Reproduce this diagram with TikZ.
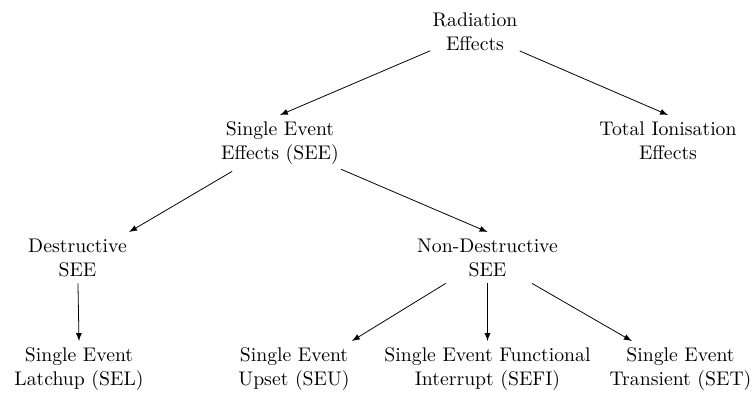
\documentclass[tikz,border=0pt]{standalone}
\begin{document}
\begin{tikzpicture}[x=.507pt,y=-.507pt,>=latex,
		effect/.style={align=center,anchor=north,inner xsep=1pt,inner ysep=3.3pt}]
	\useasboundingbox (0,0) rectangle (752,394);
	\node[effect] (rad) at (475,6) {Radiation\\Effects};
	\node[effect] (see) at (280,115) {Single Event\\Effects (SEE)};
	\node[effect] (tie) at (668,115) {Total Ionisation\\Effects};
	\node[effect] (dsee) at (77.5,232) {Destructive\\SEE};
	\node[effect] (ndsee) at (487.5,232) {Non-Destructive\\SEE};
	\node[effect] (sel) at (79,341) {Single Event\\Latchup (SEL)};
	\node[effect] (seu) at (294,341) {Single Event\\Upset (SEU)};
	\node[effect] (sefi) at (487.5,341) {Single Event Functional\\Interrupt (SEFI)};
	\node[effect] (set) at (680.5,341) {Single Event\\Transient (SET)};
	\foreach \src/\dst in {rad/see.north,
						rad/tie.north,
						see/dsee.north east,
						see/ndsee.north,
						dsee/sel.north,
						ndsee/seu.north east,
						ndsee/sefi.north,
						ndsee/set}
		\draw[->] (\src) -- (\dst);
\end{tikzpicture}
\end{document}
